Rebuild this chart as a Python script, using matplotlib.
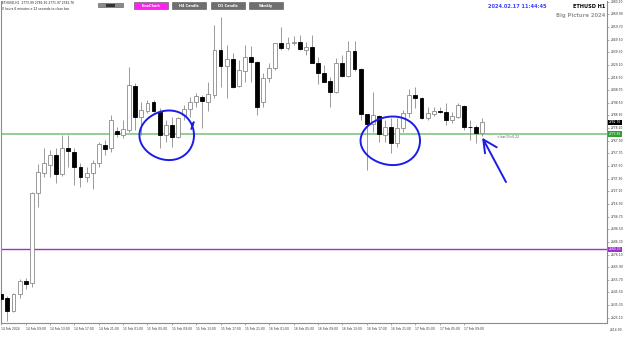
import matplotlib
matplotlib.use("Agg")
import matplotlib.pyplot as plt
from matplotlib.patches import Rectangle
import matplotlib.transforms as mtransforms
import numpy as np

# ---------------- data (ETHUSD H1) ----------------
opens = [2644.27, 2640.80, 2630.80, 2644.27, 2654.76, 2652.90, 2725.52, 2742.14, 2748.35, 2756.42,
         2741.09, 2761.82, 2759.08, 2746.98, 2738.42, 2742.14, 2749.72, 2764.48, 2761.82, 2775.78,
         2772.55, 2776.59, 2812.33, 2787.32, 2792.16, 2799.42, 2791.35, 2772.55, 2780.62, 2770.70,
         2788.69, 2793.29, 2799.42, 2803.61, 2799.42, 2804.82, 2841.13, 2828.22, 2833.63, 2812.09,
         2824.43, 2835.24, 2831.69, 2799.42, 2818.30, 2826.37, 2846.54, 2842.50, 2846.54, 2847.83,
         2841.13, 2843.31, 2830.88, 2822.82, 2816.12, 2807.00, 2830.40, 2820.40, 2840.57, 2825.56,
         2789.25, 2781.18, 2787.88, 2772.55, 2778.76, 2766.34, 2777.96, 2790.06, 2804.82, 2802.16,
         2786.51, 2789.50, 2791.67, 2791.35, 2784.65, 2787.32, 2795.95, 2779.25, 2778.76, 2773.99]
highs = [2646.69, 2642.66, 2644.84, 2656.13, 2657.42, 2726.56, 2749.15, 2761.82, 2760.45, 2761.82,
         2772.55, 2772.55, 2761.82, 2749.96, 2746.98, 2752.38, 2767.15, 2768.52, 2788.69, 2779.25,
         2784.65, 2827.66, 2814.26, 2799.42, 2800.79, 2800.79, 2794.09, 2784.65, 2787.32, 2787.32,
         2796.76, 2803.45, 2806.20, 2804.82, 2815.31, 2861.30, 2868.00, 2845.16, 2838.47, 2833.06,
         2845.16, 2844.36, 2832.50, 2822.33, 2830.40, 2847.02, 2859.93, 2851.86, 2852.43, 2853.23,
         2847.83, 2853.23, 2835.72, 2829.03, 2819.59, 2834.43, 2837.10, 2848.63, 2848.63, 2826.37,
         2789.50, 2807.49, 2788.69, 2784.65, 2786.03, 2786.03, 2792.72, 2809.42, 2811.52, 2803.45,
         2795.38, 2795.38, 2794.90, 2798.13, 2791.35, 2798.13, 2796.76, 2784.65, 2780.62, 2786.30]
lows = [2638.62, 2622.73, 2629.99, 2641.28, 2648.06, 2649.68, 2714.22, 2738.91, 2738.91, 2733.58,
        2739.47, 2746.98, 2732.21, 2730.36, 2734.87, 2728.74, 2746.98, 2756.42, 2759.08, 2771.18,
        2769.89, 2775.21, 2776.59, 2772.55, 2790.06, 2791.35, 2761.82, 2767.15, 2763.11, 2769.89,
        2784.65, 2787.32, 2795.38, 2777.96, 2791.92, 2802.16, 2811.52, 2802.16, 2810.23, 2811.52,
        2815.55, 2815.55, 2788.69, 2795.38, 2815.55, 2824.99, 2841.13, 2841.13, 2845.16, 2841.13,
        2837.10, 2830.40, 2813.70, 2815.00, 2794.90, 2806.20, 2819.59, 2819.59, 2824.43, 2784.65,
        2744.31, 2775.21, 2767.15, 2767.15, 2757.79, 2763.11, 2775.21, 2787.32, 2794.09, 2785.22,
        2784.65, 2787.88, 2790.06, 2780.62, 2781.99, 2786.03, 2776.59, 2768.52, 2765.86, 2771.97]
closes = [2640.24, 2630.80, 2644.27, 2655.00, 2652.58, 2725.52, 2742.94, 2749.72, 2756.42, 2741.09,
          2761.82, 2759.64, 2746.98, 2738.91, 2742.14, 2749.72, 2765.29, 2761.26, 2784.65, 2773.12,
          2777.15, 2812.89, 2787.32, 2792.72, 2798.61, 2792.16, 2772.55, 2780.62, 2771.18, 2786.03,
          2793.29, 2799.42, 2804.02, 2800.23, 2805.63, 2841.13, 2828.22, 2833.63, 2811.52, 2824.99,
          2835.72, 2831.69, 2795.38, 2818.30, 2826.37, 2846.54, 2842.50, 2846.54, 2847.83, 2841.69,
          2843.31, 2830.88, 2822.33, 2815.55, 2807.00, 2830.40, 2820.40, 2840.57, 2825.56, 2789.25,
          2781.43, 2788.69, 2773.12, 2778.76, 2766.34, 2777.96, 2790.06, 2804.82, 2802.16, 2786.03,
          2790.54, 2791.92, 2790.87, 2784.65, 2787.88, 2796.76, 2779.25, 2778.76, 2773.92, 2782.76]

x_tick_labels = ["14 Feb 2024", "14 Feb 09:00", "14 Feb 13:00", "14 Feb 17:00", "14 Feb 21:00",
                 "15 Feb 01:00", "15 Feb 05:00", "15 Feb 09:00", "15 Feb 13:00", "15 Feb 17:00",
                 "15 Feb 21:00", "16 Feb 01:00", "16 Feb 05:00", "16 Feb 09:00", "16 Feb 13:00",
                 "16 Feb 17:00", "16 Feb 21:00", "17 Feb 01:00", "17 Feb 05:00", "17 Feb 09:00"]
bars_per_label = 4

y_tick_values = [2880.10, 2869.90, 2859.70, 2849.50, 2839.30, 2829.10, 2818.90, 2808.70, 2798.50,
                 2788.30, 2778.10, 2767.90, 2757.70, 2747.50, 2737.30, 2727.10, 2716.90, 2706.70,
                 2696.50, 2686.30, 2676.10, 2665.90, 2655.70, 2645.50, 2635.30, 2625.10, 2614.90]

green_level = 2773.36
purple_level = 2680.33
bid_price = 2782.76
bar0_text = "< bar(0)=0.22"

# ---------------- figure ----------------
W, H = 625, 337
FS = 2.2
fig = plt.figure(figsize=(W / 100, H / 100), dpi=100)
fig.patch.set_facecolor("white")
ax = fig.add_axes([1 / W, 14 / H, 606 / W, 322 / H])
ax.set_facecolor("white")
ax.set_xlim(-0.05, 99.46)
ax.set_ylim(2620.87, 2880.66)

wick_col = "#8a8a8a"
for i, (o, h, l, c) in enumerate(zip(opens, highs, lows, closes)):
    ax.vlines(i, l, h, color=wick_col, lw=0.6, zorder=2)
    bottom = min(o, c)
    height = max(abs(c - o), 0.5)
    if c >= o:
        fc, ec = "white", wick_col
    else:
        fc, ec = "black", "black"
    ax.add_patch(Rectangle((i - 0.32, bottom), 0.64, height, facecolor=fc,
                           edgecolor=ec, lw=0.6, zorder=3))

# horizontal levels
ax.axhline(green_level, color="#8cc98c", lw=1.3, zorder=1)
ax.axhline(purple_level, color="#9b32cc", lw=1.0, zorder=1)

# spines
for s in ["left", "right", "bottom"]:
    ax.spines[s].set_color("#8c8c8c")
    ax.spines[s].set_linewidth(0.8)
ax.spines["top"].set_visible(False)

# y axis on the right
lo, hi = ax.get_ylim()
in_range = [v for v in y_tick_values if lo <= v <= hi]
ax.yaxis.tick_right()
ax.set_yticks(in_range)
ax.set_yticklabels([f"{v:.2f}" for v in in_range])
ax.tick_params(axis="y", length=1.5, width=0.5, colors="#8c8c8c", labelcolor="#333333",
               labelsize=FS, pad=1.0)
for lab in ax.get_yticklabels():
    lab.set_va("center")
blend = mtransforms.blended_transform_factory(ax.transAxes, ax.transData)
for v in y_tick_values:
    if not (lo <= v <= hi):
        ax.text(1.0 + 3 / 606, v, f"{v:.2f}", transform=blend, fontsize=FS, color="#333333",
                va="center", ha="left", clip_on=False)

# x axis
xpos = list(range(0, bars_per_label * len(x_tick_labels), bars_per_label))
ax.set_xticks(xpos)
ax.set_xticklabels(x_tick_labels, ha="left")
ax.tick_params(axis="x", length=1.5, width=0.5, colors="#8c8c8c", labelcolor="#333333",
               labelsize=FS, pad=1.5)

# price boxes on the axis
def price_box(price, fc):
    ax.text(1.0 + 1.5 / 606, price, f"{price:.2f}", transform=blend, fontsize=FS, color="white",
            va="center", ha="left", clip_on=False, zorder=10,
            bbox=dict(boxstyle="square,pad=0.25", fc=fc, ec="none"))

price_box(bid_price, "black")
price_box(green_level, "#33a033")
price_box(purple_level, "#9b32cc")

ax.text(81.35, 2771.18, bar0_text, fontsize=FS, color="#555555", va="center", ha="left")

# hand-drawn blue annotations
blue = "#1c1ce8"
t = np.linspace(0, 2 * np.pi, 300)
for cx, rx, cy, ry in [(27.16, 4.48, 2772.31, 19.93), (63.87, 4.88, 2767.87, 19.52)]:
    ax.plot(cx + rx * np.cos(t), cy + ry * np.sin(t) + 0.09 * ry * np.cos(t) * np.sin(t),
            color=blue, lw=1.4, zorder=6, solid_capstyle="round")
ax.plot([31.2, 31.6, 31.3], [2777.5, 2783.0, 2779.0], color=blue, lw=1.2, zorder=6)
ax.plot([82.87, 79.15], [2734.6, 2768.92], color=blue, lw=1.4, zorder=6, solid_capstyle="round")
ax.plot([81.35, 79.15, 79.43], [2762.63, 2768.92, 2757.79], color=blue, lw=1.4, zorder=6,
        solid_capstyle="round", solid_joinstyle="round")

# ---------------- header texts & buttons ----------------
def fx(px):
    return px / W

def fy(py):
    return 1 - py / H

fig.text(fx(2), fy(3.5), "ETHUSD,H1  2773.99 2786.30 2771.97 2782.76", fontsize=FS,
         color="#222222", va="center", ha="left")
fig.text(fx(2), fy(8.5), "0 hours 6 minutes e 22 seconds to close bar", fontsize=FS,
         color="#222222", va="center", ha="left")

def button(x0, x1, y0, y1, fc, label, tc="white"):
    fig.add_artist(Rectangle((fx(x0), fy(y1)), fx(x1) - fx(x0), fy(y0) - fy(y1),
                             transform=fig.transFigure, facecolor=fc, edgecolor="#555555",
                             lw=0.4))
    if label:
        fig.text(fx((x0 + x1) / 2), fy((y0 + y1) / 2), label, fontsize=2.5, color=tc,
                 fontweight="bold", ha="center", va="center")

button(98, 123, 3.3, 7.3, "#8a8a8a", "")
fig.add_artist(Rectangle((fx(106), fy(6.5)), fx(9), 2.5 / H, transform=fig.transFigure,
                         facecolor="#333333", edgecolor="none"))
button(134, 168, 2.3, 9.3, "#ff22ee", "LineChart")
button(172, 206, 2.3, 9.3, "#6f6f6f", "H4 Candle")
button(211, 245, 2.3, 9.3, "#6f6f6f", "D1 Candle")
button(249, 283, 2.3, 9.3, "#6f6f6f", "Weekly")

fig.text(fx(547), fy(6), "2024.02.17 11:44:45", fontsize=3.6, color="#3c3cff",
         fontweight="bold", ha="right", va="center")
fig.text(fx(605), fy(6), "ETHUSD H1", fontsize=3.6, color="black",
         fontweight="bold", ha="right", va="center")
fig.text(fx(605), fy(15), "Big Picture 2024", fontsize=3.8, color="#999999",
         fontweight="bold", ha="right", va="center")

fig.savefig("out.png", dpi=100, facecolor="white")
